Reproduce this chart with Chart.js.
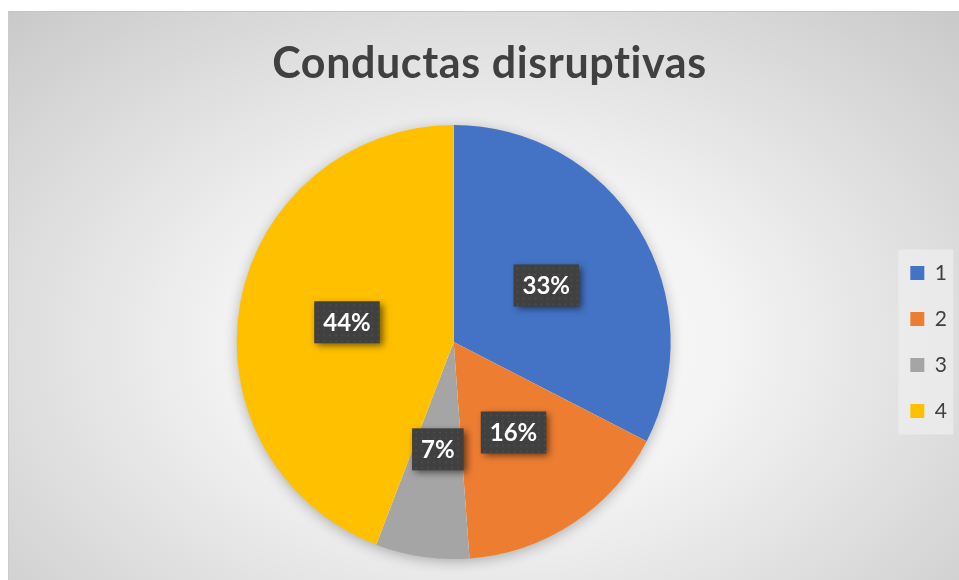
<!DOCTYPE html>
<html>
<head>
<meta charset="utf-8">
<script src="https://cdn.jsdelivr.net/npm/chart.js@4.4.0/dist/chart.umd.min.js"></script>
<style>
  body { margin: 0; background: #fff; }
  #marco {
    position: absolute; left: 8px; top: 11px; width: 950px; height: 569px;
    border-top: 1px solid #c4c4c4; border-left: 1px solid #cccccc;
    background: radial-gradient(ellipse 75% 85% at 50% 58%, #ffffff 0%, #f3f3f3 35%, #c6c6c6 100%);
  }
  #grafico { position: absolute; left: 0; top: 0; }
</style>
</head>
<body>
<div id="marco"></div>
<canvas id="grafico" width="959" height="580"></canvas>
<script>
const titulo = "Conductas disruptivas";
const categorias = ["1", "2", "3", "4"];
const valores = [14, 7, 3, 19];
const colores = ["#4472C4", "#ED7D31", "#A5A5A5", "#FFC000"];

// titulo centrado sobre todo el marco (no sobre el area del pie)
const pluginTitulo = {
  id: "titulo",
  afterDraw(chart) {
    const ctx = chart.ctx;
    ctx.save();
    ctx.font = "bold 43px Lato";
    ctx.letterSpacing = "0.6px";
    ctx.fillStyle = "#404040";
    ctx.textAlign = "center";
    ctx.textBaseline = "alphabetic";
    ctx.fillText(titulo, 489.5, 78);
    ctx.restore();
  }
};

// sombra del pie + fondo de la leyenda
const pluginFondo = {
  id: "fondo",
  beforeDatasetsDraw(chart) {
    const ctx = chart.ctx;
    const arco = chart.getDatasetMeta(0).data[0];
    ctx.save();
    ctx.shadowColor = "rgba(0,0,0,0.30)";
    ctx.shadowBlur = 14;
    ctx.shadowOffsetY = 3;
    ctx.fillStyle = "#ffffff";
    ctx.beginPath();
    ctx.arc(arco.x, arco.y, arco.outerRadius - 1, 0, Math.PI * 2);
    ctx.fill();
    ctx.restore();
  },
  beforeDraw(chart) {
    const leg = chart.legend;
    if (!leg || !leg.legendHitBoxes.length) return;
    const cajas = leg.legendHitBoxes;
    const ctx = chart.ctx;
    const x0 = cajas[0].left - 12;
    const y0 = cajas[0].top - 13;
    const y1 = cajas[cajas.length - 1].top + cajas[cajas.length - 1].height + 13;
    ctx.save();
    ctx.fillStyle = "rgba(238,238,238,0.75)";
    ctx.fillRect(x0, y0, 55, y1 - y0);
    ctx.restore();
  }
};

// etiquetas de porcentaje en cajas oscuras
const pluginEtiquetas = {
  id: "etiquetas",
  afterDatasetsDraw(chart) {
    const ctx = chart.ctx;
    const datos = chart.data.datasets[0].data;
    const total = datos.reduce((a, b) => a + b, 0);
    chart.getDatasetMeta(0).data.forEach((arco, i) => {
      const p = arco.tooltipPosition();
      const texto = Math.round(datos[i] / total * 100) + "%";
      ctx.save();
      ctx.font = "bold 24px Lato";
      const ancho = ctx.measureText(texto).width + 18;
      const alto = 42;
      const x = p.x - ancho / 2, y = p.y - alto / 2;
      ctx.shadowColor = "rgba(0,0,0,0.55)";
      ctx.shadowBlur = 7;
      ctx.shadowOffsetX = 3;
      ctx.shadowOffsetY = 3;
      ctx.fillStyle = "#404040";
      ctx.fillRect(x, y, ancho, alto);
      ctx.shadowColor = "transparent";
      ctx.fillStyle = "#4b4b4b";
      for (let yy = y + 3; yy < y + alto - 1; yy += 6) {
        for (let xx = x + 3; xx < x + ancho - 1; xx += 6) {
          ctx.fillRect(xx, yy, 2, 2);
        }
      }
      ctx.fillStyle = "#ffffff";
      ctx.textAlign = "center";
      ctx.textBaseline = "middle";
      ctx.fillText(texto, p.x, p.y + 1);
      ctx.restore();
    });
  }
};

const ctx = document.getElementById("grafico").getContext("2d");
let miGrafico = new Chart(ctx, {
  type: "pie",
  data: {
    labels: categorias,
    datasets: [
      {
        data: valores,
        backgroundColor: colores,
        borderWidth: 0,
      },
    ],
  },
  options: {
    responsive: false,
    animation: false,
    layout: {
      padding: { top: 125, bottom: 21, left: 22, right: 2 },
    },
    plugins: {
      title: { display: false },
      tooltip: { enabled: false },
      legend: {
        position: "right",
        labels: {
          boxWidth: 14,
          boxHeight: 14,
          padding: 25,
          color: "#404040",
          font: { family: "Lato", size: 21 },
        },
      },
    },
  },
  plugins: [pluginFondo, pluginEtiquetas, pluginTitulo],
});
</script>
</body>
</html>
